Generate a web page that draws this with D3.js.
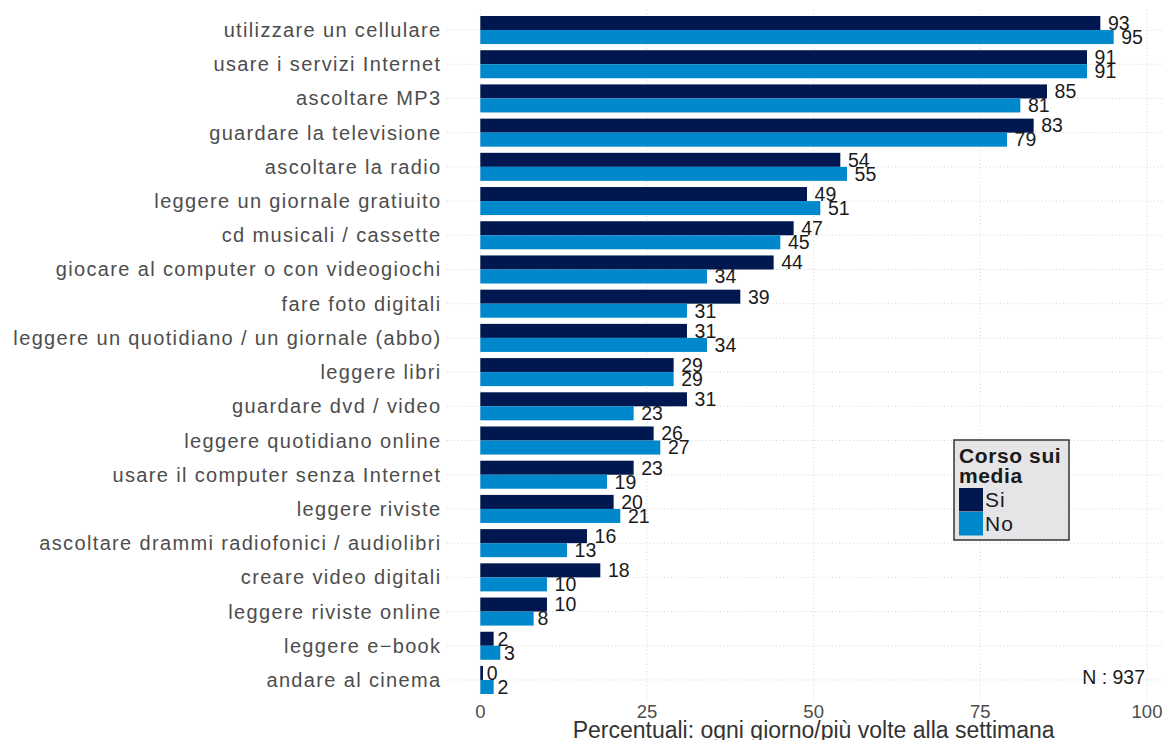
<!DOCTYPE html>
<html>
<head>
<meta charset="utf-8">
<script src="https://cdn.jsdelivr.net/npm/d3@7"></script>
<style>
  body { margin: 0; background: #fff; }
  svg { display: block; font-family: "Liberation Sans", Arial, sans-serif; }
</style>
</head>
<body>
<svg width="1164" height="740"></svg>
<script>
// data
var categories = [
	"utilizzare un cellulare",
	"usare i servizi Internet",
	"ascoltare MP3",
	"guardare la televisione",
	"ascoltare la radio",
	"leggere un giornale gratiuito",
	"cd musicali / cassette",
	"giocare al computer o con videogiochi",
	"fare foto digitali",
	"leggere un quotidiano / un giornale (abbo)",
	"leggere libri",
	"guardare dvd / video",
	"leggere quotidiano online",
	"usare il computer senza Internet ",
	"leggere riviste",
	"ascoltare drammi radiofonici / audiolibri",
	"creare video digitali ",
	"leggere riviste online",
	"leggere e\u2212book",
	"andare al cinema"
];
var si = [93, 91, 85, 83, 54, 49, 47, 44, 39, 31, 29, 31, 26, 23, 20, 16, 18, 10, 2, 0.4];
var no = [95, 91, 81, 79, 55, 51, 45, 34, 31, 34, 29, 23, 27, 19, 21, 13, 10, 8, 3, 2];
var groups = ["Si", "No"];
var xTicks = [0, 25, 50, 75, 100];

var svg = d3.select("svg");
var width = +svg.attr("width");
var height = +svg.attr("height");

var color = d3.scaleOrdinal(groups, ["#00174f", "#0088cc"]);

var x = d3.scaleLinear().domain([0, 100]).range([480.3, 1147]);
var panelLeft = x(-5), panelRight = x(105);
var panelTop = 9.5, panelBottom = 700.5;

var y = d3.scalePoint().domain(categories).range([panelTop, panelBottom]).padding(0.6);
var step = y.step();
var dodge = d3.scaleBand().domain(groups).range([-step * 0.41, step * 0.41]);

var rows = categories.map((c, i) => ({ name: c, values: [{ g: "Si", v: si[i] }, { g: "No", v: no[i] }] }));

var grid = svg.append("g").attr("stroke", "#d4d4d4").attr("stroke-dasharray", "1,2.5");
grid.selectAll(".gx")
	.data(xTicks)
	.enter().append("line")
	.attr("x1", d => x(d)).attr("x2", d => x(d))
	.attr("y1", panelTop).attr("y2", panelBottom);
grid.selectAll(".gy")
	.data(categories)
	.enter().append("line")
	.attr("x1", panelLeft).attr("x2", panelRight)
	.attr("y1", d => y(d)).attr("y2", d => y(d));

var row = svg.selectAll(".row")
	.data(rows)
	.enter().append("g")
	.attr("class", "row")
	.attr("transform", d => "translate(0," + y(d.name) + ")");

row.selectAll("rect")
	.data(d => d.values)
	.enter().append("rect")
	.attr("x", x(0))
	.attr("y", d => dodge(d.g))
	.attr("width", d => x(d.v) - x(0))
	.attr("height", dodge.bandwidth())
	.attr("fill", d => color(d.g));

row.selectAll("text.val")
	.data(d => d.values)
	.enter().append("text")
	.attr("class", "val")
	.attr("y", d => dodge(d.g) + dodge.bandwidth() / 2)
	.attr("dy", "0.35em")
	.attr("font-size", 19.5)
	.attr("fill", "#1a1a1a")
	.text(d => Math.round(d.v))
	.attr("x", function(d) { return x(d.v) + 0.35 * this.getComputedTextLength(); });

// category labels
svg.append("g").selectAll("text")
	.data(categories)
	.enter().append("text")
	.attr("x", panelLeft - 5.5)
	.attr("y", d => y(d))
	.attr("dy", "0.35em")
	.attr("text-anchor", "end")
	.attr("font-size", 20)
	.attr("letter-spacing", 1.35)
	.attr("fill", "#4d4d4d")
	.text(d => d);

// x tick labels
svg.append("g").selectAll("text")
	.data(xTicks)
	.enter().append("text")
	.attr("x", d => x(d))
	.attr("y", 718)
	.attr("text-anchor", "middle")
	.attr("font-size", 18.5)
	.attr("fill", "#4d4d4d")
	.text(d => d);

svg.append("text")
	.attr("x", (panelLeft + panelRight) / 2)
	.attr("y", 738)
	.attr("text-anchor", "middle")
	.attr("font-size", 23)
	.attr("fill", "#333")
	.text("Percentuali: ogni giorno/più volte alla settimana");

svg.append("text")
	.attr("x", 1145)
	.attr("y", 684)
	.attr("text-anchor", "end")
	.attr("font-size", 19.5)
	.attr("fill", "#1a1a1a")
	.text("N : 937");

// legend
var legend = svg.append("g").attr("transform", "translate(954,440)");
legend.append("rect")
	.attr("width", 115).attr("height", 100)
	.attr("fill", "#e5e5e7").attr("stroke", "#333").attr("stroke-width", 1.5);
legend.append("text")
	.attr("x", 5).attr("y", 23)
	.attr("font-size", 21).attr("font-weight", "bold").attr("fill", "#1a1a1a")
	.attr("letter-spacing", 0.6)
	.selectAll("tspan")
	.data(["Corso sui", "media"])
	.enter().append("tspan")
	.attr("x", 5).attr("dy", (d, i) => i ? 20 : 0)
	.text(d => d);
var key = legend.selectAll(".key")
	.data(groups)
	.enter().append("g")
	.attr("transform", (d, i) => "translate(5," + (48 + i * 24) + ")");
key.append("rect")
	.attr("width", 24).attr("height", 23.5)
	.attr("fill", d => color(d));
key.append("text")
	.attr("x", 26).attr("y", 12).attr("dy", "0.35em")
	.attr("font-size", 21).attr("letter-spacing", 1).attr("fill", "#1a1a1a")
	.text(d => d);
</script>
</body>
</html>
